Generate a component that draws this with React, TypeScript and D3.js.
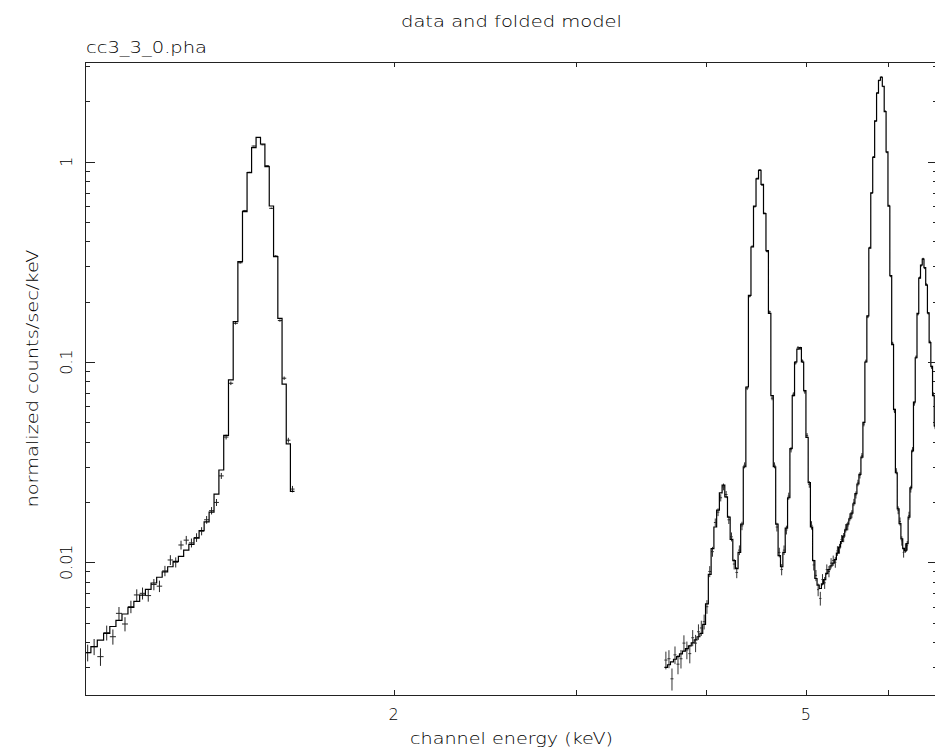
import React from 'react';
import * as d3 from 'd3';

// ---------- data (keV, normalized counts/sec/keV) ----------
const lowEnergy = [
  1.0131, 1.0277, 1.0423, 1.0569, 1.0715, 1.0861, 1.1007, 1.1153, 1.1299, 1.1445,
  1.1591, 1.1737, 1.1883, 1.2029, 1.2175, 1.2321, 1.2467, 1.2613, 1.2759, 1.2905,
  1.3051, 1.3197, 1.3343, 1.3489, 1.3635, 1.3781, 1.3927, 1.4073, 1.4219, 1.4365,
  1.4511, 1.4657, 1.4803, 1.4949, 1.5095, 1.5241, 1.5387, 1.5533, 1.5679, 1.5825,
  1.5971,
];
const lowHalfWidth = 0.0073;
const lowData = [
  0.00354, 0.00379, 0.00338, 0.00445, 0.00425, 0.00556, 0.00492, 0.006, 0.00687, 0.007,
  0.00682, 0.00775, 0.0076, 0.00906, 0.01027, 0.01, 0.0122, 0.0129, 0.0125, 0.0133,
  0.0143, 0.0163, 0.0181, 0.0199, 0.027, 0.0422, 0.0783, 0.156, 0.313, 0.57,
  0.885, 1.197, 1.32, 1.215, 0.955, 0.585, 0.338, 0.161, 0.083, 0.0407,
  0.0232,
];
const lowError = [
  0.00034, 0.00035, 0.00034, 0.00038, 0.00037, 0.00042, 0.0004, 0.00043, 0.00046, 0.00048,
  0.00046, 0.0005, 0.0005, 0.00054, 0.00058, 0.00058, 0.00062, 0.00064, 0.00064, 0.00066,
  0.00067, 0.00072, 0.00077, 0.0008, 0.00093, 0.00117, 0.0016, 0.0022, 0.0032, 0.0043,
  0.0053, 0.0062, 0.0066, 0.0062, 0.0056, 0.0043, 0.0034, 0.0022, 0.0016, 0.00115,
  0.00086,
];
const lowModel = [
  0.00354, 0.00379, 0.00409, 0.00442, 0.00478, 0.00513, 0.00552, 0.00596, 0.00638, 0.00685,
  0.00733, 0.00788, 0.00842, 0.00895, 0.0095, 0.0101, 0.0107, 0.0115, 0.0123, 0.0132,
  0.0144, 0.0159, 0.0178, 0.0219, 0.0289, 0.043, 0.0815, 0.159, 0.317, 0.563,
  0.881, 1.175, 1.324, 1.226, 0.944, 0.601, 0.336, 0.165, 0.0775, 0.039,
  0.0226,
];

const highEnergy = [
  3.6625, 3.6875, 3.7125, 3.7375, 3.7625, 3.7875, 3.8125, 3.8375, 3.8625, 3.8875,
  3.9125, 3.9375, 3.9625, 3.9875, 4.0125, 4.0375, 4.0625, 4.0875, 4.1125, 4.1375,
  4.1625, 4.1875, 4.2125, 4.2375, 4.2625, 4.2875, 4.3125, 4.3375, 4.3625, 4.3875,
  4.4125, 4.4375, 4.4625, 4.4875, 4.5125, 4.5375, 4.5625, 4.5875, 4.6125, 4.6375,
  4.6625, 4.6875, 4.7125, 4.7375, 4.7625, 4.7875, 4.8125, 4.8375, 4.8625, 4.8875,
  4.9125, 4.9375, 4.9625, 4.9875, 5.0125, 5.0375, 5.0625, 5.0875, 5.1125, 5.1375,
  5.1625, 5.1875, 5.2125, 5.2375, 5.2625, 5.2875, 5.3125, 5.3375, 5.3625, 5.3875,
  5.4125, 5.4375, 5.4625, 5.4875, 5.5125, 5.5375, 5.5625, 5.5875, 5.6125, 5.6375,
  5.6625, 5.6875, 5.7125, 5.7375, 5.7625, 5.7875, 5.8125, 5.8375, 5.8625, 5.8875,
  5.9125, 5.9375, 5.9625, 5.9875, 6.0125, 6.0375, 6.0625, 6.0875, 6.1125, 6.1375,
  6.1625, 6.1875, 6.2125, 6.2375, 6.2625, 6.2875, 6.3125, 6.3375, 6.3625, 6.3875,
  6.4125, 6.4375, 6.4625, 6.4875, 6.5125, 6.5375, 6.5625, 6.5875, 6.6125, 6.6375,
  6.6625, 6.6875,
];
const highHalfWidth = 0.0125;
const highData = [
  0.00325, 0.0033, 0.00262, 0.00345, 0.0031, 0.0033, 0.00395, 0.00365, 0.0035, 0.0042,
  0.00395, 0.0045, 0.0047, 0.00505, 0.006, 0.009, 0.0113, 0.0158, 0.0178, 0.021,
  0.0238, 0.0218, 0.0163, 0.0134, 0.0098, 0.0089, 0.0115, 0.0152, 0.0305, 0.074,
  0.213, 0.378, 0.596, 0.826, 0.91, 0.764, 0.553, 0.356, 0.178, 0.066,
  0.0305, 0.015, 0.0112, 0.0092, 0.0115, 0.0145, 0.0214, 0.0365, 0.069, 0.099,
  0.118, 0.117, 0.101, 0.071, 0.043, 0.0245, 0.0153, 0.0097, 0.0086, 0.0073,
  0.0066, 0.0082, 0.0079, 0.0092, 0.009, 0.0099, 0.0102, 0.01, 0.0114, 0.0117,
  0.013, 0.0133, 0.0148, 0.0152, 0.0168, 0.0174, 0.0199, 0.0217, 0.0249, 0.0272,
  0.034, 0.049, 0.101, 0.168, 0.373, 0.695, 1.06, 1.59, 2.21, 2.54,
  2.65, 2.37, 1.79, 1.11, 0.605, 0.268, 0.124, 0.057, 0.0285, 0.0182,
  0.016, 0.0128, 0.0112, 0.0118, 0.0121, 0.0171, 0.0232, 0.0365, 0.062, 0.106,
  0.173, 0.264, 0.303, 0.328, 0.294, 0.244, 0.175, 0.126, 0.094, 0.069,
  0.0475, 0.0365,
];
const highError = [
  0.00033, 0.00034, 0.00033, 0.00035, 0.00034, 0.00035, 0.00037, 0.00037, 0.00037, 0.00039,
  0.00039, 0.0004, 0.00041, 0.00043, 0.00047, 0.00057, 0.00064, 0.00075, 0.0008, 0.00087,
  0.00093, 0.00089, 0.00077, 0.00069, 0.00059, 0.00057, 0.00064, 0.00074, 0.00105, 0.0016,
  0.0028, 0.0037, 0.0046, 0.0054, 0.0057, 0.0053, 0.0045, 0.0036, 0.0025, 0.0016,
  0.00104, 0.00075, 0.00062, 0.00059, 0.00063, 0.00073, 0.00087, 0.00115, 0.0016, 0.0019,
  0.002, 0.0021, 0.0019, 0.0016, 0.0012, 0.00095, 0.00074, 0.0006, 0.00055, 0.00053,
  0.00052, 0.00053, 0.00054, 0.00056, 0.00058, 0.00059, 0.0006, 0.00061, 0.00063, 0.00066,
  0.00068, 0.0007, 0.00072, 0.00075, 0.00077, 0.0008, 0.00084, 0.00089, 0.00094, 0.001,
  0.0011, 0.0013, 0.0019, 0.0025, 0.0037, 0.005, 0.0062, 0.0076, 0.0089, 0.0096,
  0.0097, 0.0093, 0.008, 0.0064, 0.0047, 0.0031, 0.0021, 0.0014, 0.001, 0.00082,
  0.00075, 0.00069, 0.00065, 0.00064, 0.00067, 0.00078, 0.00092, 0.0011, 0.0015, 0.0019,
  0.0025, 0.0031, 0.0033, 0.0034, 0.0033, 0.003, 0.0025, 0.0021, 0.0018, 0.0016,
  0.0013, 0.0011,
];
const highModel = [
  0.00299, 0.00308, 0.00318, 0.00328, 0.00338, 0.00349, 0.0036, 0.00371, 0.00383, 0.00396,
  0.0041, 0.00425, 0.00442, 0.0049, 0.0062, 0.0087, 0.0117, 0.015, 0.0182, 0.0222,
  0.0243, 0.0212, 0.0168, 0.013, 0.0102, 0.0093, 0.0112, 0.0155, 0.03, 0.075,
  0.215, 0.375, 0.6, 0.82, 0.905, 0.77, 0.55, 0.36, 0.175, 0.068,
  0.03, 0.0155, 0.0108, 0.0095, 0.0112, 0.0148, 0.021, 0.037, 0.068, 0.1,
  0.116, 0.118, 0.1, 0.072, 0.042, 0.025, 0.015, 0.0102, 0.0083, 0.0077,
  0.0074, 0.0078, 0.0082, 0.0088, 0.0092, 0.0096, 0.0099, 0.0103, 0.0111, 0.0119,
  0.0127, 0.0135, 0.0145, 0.0155, 0.0165, 0.0176, 0.0196, 0.022, 0.0246, 0.0275,
  0.0335, 0.05, 0.1, 0.17, 0.37, 0.7, 1.05, 1.6, 2.2, 2.55,
  2.64, 2.38, 1.78, 1.12, 0.6, 0.27, 0.122, 0.058, 0.028, 0.0185,
  0.0156, 0.0131, 0.0117, 0.0114, 0.0124, 0.0168, 0.0235, 0.036, 0.063, 0.105,
  0.175, 0.262, 0.305, 0.326, 0.296, 0.242, 0.176, 0.125, 0.095, 0.068,
  0.048, 0.036,
];

const xDomain = [1.0071, 6.7058];
const yDomain = [0.002175, 3.146];
const xTicks = [2, 3, 4, 5, 6];
const xTickLabels = [2, 5];
const yMajorTicks = [0.01, 0.1, 1];
const yTickLabels = ['0.01', '0.1', '1'];
const yMinorTicks = [
  0.003, 0.004, 0.005, 0.006, 0.007, 0.008, 0.009,
  0.02, 0.03, 0.04, 0.05, 0.06, 0.07, 0.08, 0.09,
  0.2, 0.3, 0.4, 0.5, 0.6, 0.7, 0.8, 0.9,
  2, 3,
];

const TITLE = 'data and folded model';
const SUBTITLE = 'cc3_3_0.pha';
const XLABEL = 'channel energy (keV)';
const YLABEL = 'normalized counts/sec/keV';

// ---------- layout ----------
const W = 935;
const H = 750;
const L = 85;
const R = 938;
const T = 62;
const B = 695;
const FONT = "'DejaVu Sans', sans-serif";

export default function App() {
  const x = d3.scaleLog().domain(xDomain).range([L, R]);
  const y = d3.scaleLog().domain(yDomain).range([B, T]);

  const stepLine = d3
    .line<[number, number]>()
    .x((d) => x(d[0]))
    .y((d) => y(d[1]));

  const stepPoints = (en: number[], hw: number, m: number[]) => {
    const pts: [number, number][] = [];
    en.forEach((e, i) => {
      pts.push([e - hw, m[i]]);
      pts.push([e + hw, m[i]]);
    });
    return pts;
  };

  const crosses = (en: number[], hw: number, d: number[], err: number[]) => {
    let p = '';
    en.forEach((e, i) => {
      const yc = y(d[i]);
      p += `M${x(e - hw)},${yc}H${x(e + hw)}`;
      p += `M${x(e)},${y(d[i] + err[i])}V${y(Math.max(d[i] - err[i], 1e-6))}`;
    });
    return p;
  };

  const txt = {
    fontFamily: FONT,
    fontSize: 16,
    fontWeight: 200,
    fill: '#000',
  } as const;

  return (
    <div style={{ position: 'absolute', left: 0, top: 0 }}>
      <svg width={W} height={H} style={{ display: 'block', background: '#fff' }}>
        <defs>
          <clipPath id="plotclip">
            <rect x={L} y={T} width={R - L} height={B - T} />
          </clipPath>
        </defs>

        <g clipPath="url(#plotclip)" fill="none">
          <path d={crosses(lowEnergy, lowHalfWidth, lowData, lowError)} stroke="#222" strokeWidth={1} />
          <path d={crosses(highEnergy, highHalfWidth, highData, highError)} stroke="#333" strokeWidth={1} />
          <path d={stepLine(stepPoints(lowEnergy, lowHalfWidth, lowModel)) || ''} stroke="#000" strokeWidth={1.2} />
          <path d={stepLine(stepPoints(highEnergy, highHalfWidth, highModel)) || ''} stroke="#000" strokeWidth={1.2} />
        </g>

        {/* frame */}
        <g stroke="#222" strokeWidth={1} fill="none" shapeRendering="crispEdges">
          <line x1={L + 0.5} y1={T} x2={L + 0.5} y2={B + 0.5} />
          <line x1={L} y1={B + 0.5} x2={R} y2={B + 0.5} />
          <line x1={L} y1={T + 0.5} x2={R} y2={T + 0.5} />
          <line x1={R + 0.5} y1={T} x2={R + 0.5} y2={B} />
          {xTicks.map((t) => (
            <g key={'xt' + t}>
              <line x1={Math.round(x(t)) + 0.5} x2={Math.round(x(t)) + 0.5} y1={B} y2={B - 5} />
              <line x1={Math.round(x(t)) + 0.5} x2={Math.round(x(t)) + 0.5} y1={T} y2={T + 5} />
            </g>
          ))}
          {yMajorTicks.map((t) => (
            <g key={'ym' + t}>
              <line x1={L} x2={L + 10} y1={Math.round(y(t)) + 0.5} y2={Math.round(y(t)) + 0.5} />
              <line x1={R} x2={R - 10} y1={Math.round(y(t)) + 0.5} y2={Math.round(y(t)) + 0.5} />
            </g>
          ))}
          {yMinorTicks.map((t) => (
            <g key={'yn' + t}>
              <line x1={L} x2={L + 5} y1={Math.round(y(t)) + 0.5} y2={Math.round(y(t)) + 0.5} />
              <line x1={R} x2={R - 5} y1={Math.round(y(t)) + 0.5} y2={Math.round(y(t)) + 0.5} />
            </g>
          ))}
        </g>

        {/* texts */}
        <text {...txt} x={(L + R) / 2} y={26.5} textAnchor="middle" textLength={221} lengthAdjust="spacingAndGlyphs">
          {TITLE}
        </text>
        <text {...txt} x={86} y={53} textLength={121} lengthAdjust="spacingAndGlyphs">
          {SUBTITLE}
        </text>
        <text {...txt} x={(L + R) / 2} y={744} textAnchor="middle" textLength={203} lengthAdjust="spacingAndGlyphs">
          {XLABEL}
        </text>
        {xTickLabels.map((t) => (
          <text key={'xl' + t} {...txt} x={x(t)} y={720} textAnchor="middle">
            {String(t)}
          </text>
        ))}
        {yMajorTicks.map((t, i) => (
          <text
            key={'yl' + t}
            {...txt}
            textAnchor="middle"
            transform={`translate(72,${y(t)}) rotate(-90)`}
          >
            {yTickLabels[i]}
          </text>
        ))}
        <text
          {...txt}
          textAnchor="middle"
          textLength={258}
          lengthAdjust="spacingAndGlyphs"
          transform={`translate(38,${(T + B) / 2}) rotate(-90)`}
        >
          {YLABEL}
        </text>
      </svg>
    </div>
  );
}
